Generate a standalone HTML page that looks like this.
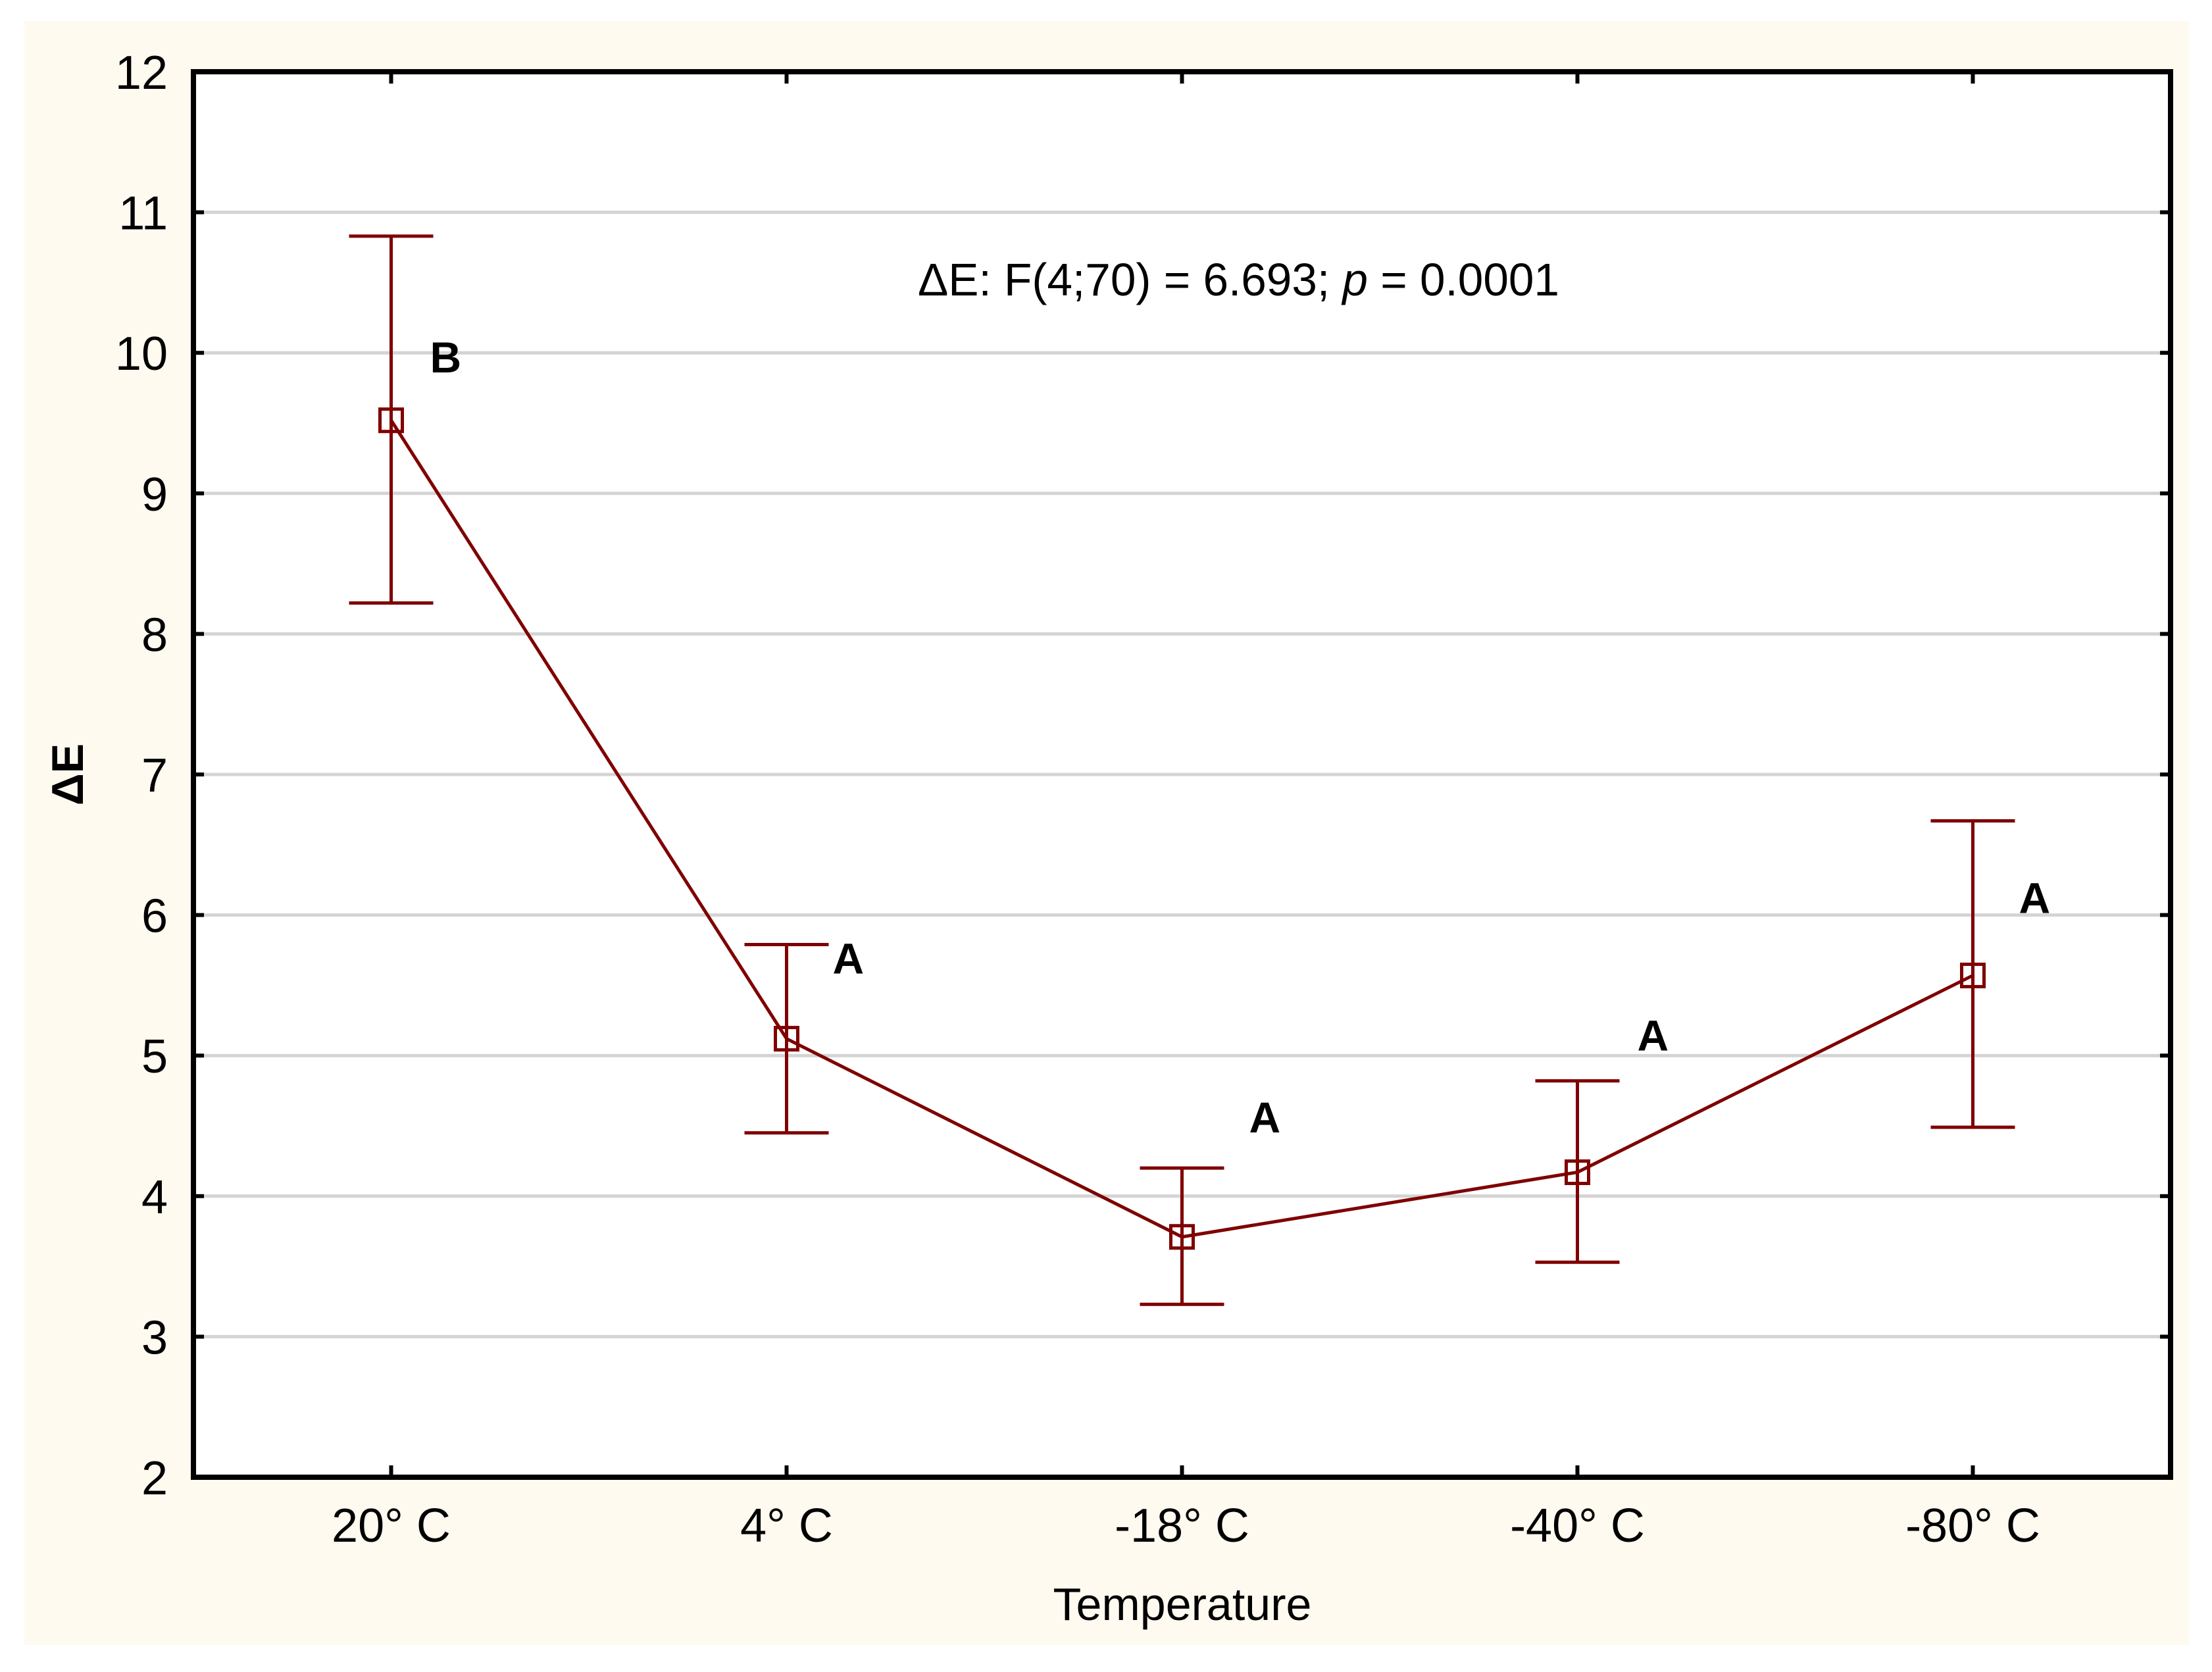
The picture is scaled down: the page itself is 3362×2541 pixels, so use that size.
<!DOCTYPE html>
<html><head><meta charset="utf-8"><style>
html,body{margin:0;padding:0;background:#fff;}
svg{display:block;font-family:"Liberation Sans",Arial,sans-serif;}
</style></head><body>
<svg id="chart" width="3362" height="2541" viewBox="0 0 3362 2541" xmlns="http://www.w3.org/2000/svg">
<rect x="37" y="32" width="3290" height="2468" fill="#fefaf0"/>
<rect x="294" y="109" width="3005" height="2136" fill="#fff"/>
<g id="grid"></g>
<g id="yticks"></g>
<g id="xticks"></g>
<g id="series"></g>
<rect x="294" y="109" width="3005" height="2136" fill="none" stroke="#000" stroke-width="8"/>
<text x="1797" y="2462" font-size="70" text-anchor="middle">Temperature</text>
<text x="126" y="1177" font-size="68" font-weight="bold" text-anchor="middle" transform="rotate(-90 126 1177)">ΔE</text>
<text x="1395" y="449" font-size="70" textLength="975" lengthAdjust="spacingAndGlyphs">ΔE: F(4;70) = 6.693; <tspan font-style="italic">p</tspan> = 0.0001</text>
</svg>
<script>
const categories = ["20° C","4° C","-18° C","-40° C","-80° C"];
const means = [9.52, 5.12, 3.71, 4.17, 5.57];
const upper = [10.83, 5.79, 4.20, 4.82, 6.67];
const lower = [8.22, 4.45, 3.23, 3.53, 4.49];
const groups = ["B","A","A","A","A"];
const yTicks = [2,3,4,5,6,7,8,9,10,11,12];

const NS="http://www.w3.org/2000/svg";
const L=294,R=3299,T=109,B=2245,yMin=2,yMax=12;
const y=v=>B-(v-yMin)/(yMax-yMin)*(B-T);
const step=(R-L)/categories.length;
const x=i=>L+(i+0.5)*step;
const labDx=[59,70,102,91,70];
const labDy=[207,44,-54,-46,140];
function mk(tag,attrs,parent){const e=document.createElementNS(NS,tag);for(const k in attrs)e.setAttribute(k,attrs[k]);parent.appendChild(e);return e;}
const grid=document.getElementById('grid'),yt=document.getElementById('yticks'),xt=document.getElementById('xticks'),ser=document.getElementById('series');
yTicks.forEach(v=>{
  if(v>yMin&&v<yMax){const g=mk('line',{x1:L,x2:R,y1:y(v),y2:y(v),stroke:'#d4d4d4','stroke-width':5},grid);
  
  }
  const t1=mk('line',{x1:L,x2:L+16,y1:y(v),y2:y(v),stroke:'#000','stroke-width':6},yt);
  
  
  const t2=mk('line',{x1:R-16,x2:R,y1:y(v),y2:y(v),stroke:'#000','stroke-width':6},yt);
  
  
  const tx=mk('text',{x:255,y:y(v)+26,'font-size':72,'text-anchor':'end'},yt);tx.textContent=v;
  
  
});
categories.forEach((c,i)=>{
  const t1=mk('line',{x1:x(i),x2:x(i),y1:B-18,y2:B,stroke:'#000','stroke-width':6},xt);
  
  
  const t2=mk('line',{x1:x(i),x2:x(i),y1:T,y2:T+18,stroke:'#000','stroke-width':6},xt);
  
  
  const tx=mk('text',{x:x(i),y:2343,'font-size':72,'text-anchor':'middle'},xt);tx.textContent=c;
  
  
});
const col='#7f0000';
const pl=mk('polyline',{points:means.map((m,i)=>x(i)+','+y(m)).join(' '),fill:'none',stroke:col,'stroke-width':5},ser);


means.forEach((m,i)=>{
  const g=mk('g',{},ser);
  
  
  mk('line',{x1:x(i),x2:x(i),y1:y(upper[i]),y2:y(lower[i]),stroke:col,'stroke-width':5},g);
  mk('line',{x1:x(i)-64,x2:x(i)+64,y1:y(upper[i]),y2:y(upper[i]),stroke:col,'stroke-width':5},g);
  mk('line',{x1:x(i)-64,x2:x(i)+64,y1:y(lower[i]),y2:y(lower[i]),stroke:col,'stroke-width':5},g);
  const p=mk('rect',{x:x(i)-17,y:y(m)-17,width:34,height:34,fill:'none',stroke:col,'stroke-width':5},ser);
  
  
  const lb=mk('text',{x:x(i)+labDx[i],y:y(upper[i])+labDy[i],'font-size':66,'font-weight':'bold'},ser);
  lb.textContent=groups[i];
  
  
});
</script>
</body></html>
